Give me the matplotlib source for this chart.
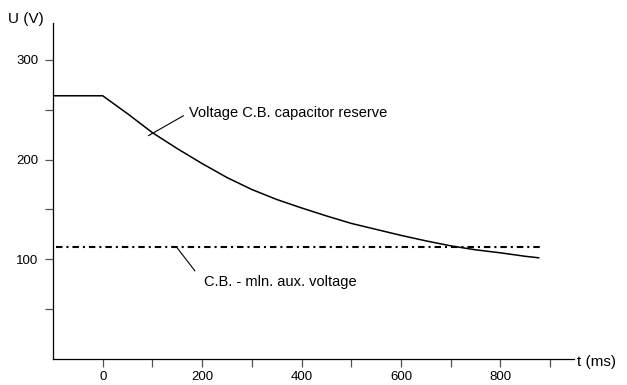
import matplotlib.pyplot as plt
from matplotlib.ticker import FixedLocator

plt.rcParams["font.family"] = ["Liberation Sans", "DejaVu Sans"]
plt.rcParams["font.size"] = 9.5

# capacitor reserve voltage curve
t_ms = [-100, 0, 50, 100, 150, 200, 250, 300, 350, 400, 450, 500, 550,
        600, 650, 700, 750, 800, 850, 877]
u_cap = [264, 264, 246, 227, 211, 196, 182, 170, 160, 151.5, 143.5, 136,
         130, 124, 118.5, 113.5, 109.5, 106.5, 103, 101.5]

# minimum auxiliary voltage
t_aux = [-93, 886]
u_aux = [112, 112]

x_major = [0, 200, 400, 600, 800]
x_minor = [100, 300, 500, 700, 900]
y_major = [100, 200, 300]
y_minor = [50, 150, 250]

fig = plt.figure(figsize=(6.27, 3.85), dpi=100)
ax = fig.add_axes([53 / 627, 26 / 385, 521 / 627, 336 / 385])

ax.plot(t_ms, u_cap, color="black", lw=1.1)
ax.plot(t_aux, u_aux, color="black", lw=1.5, dashes=(3.1, 1.9, 1, 1.9))

ax.set_xlim(-100, 948)
ax.set_ylim(0, 337)

for s in ["top", "right"]:
    ax.spines[s].set_visible(False)
ax.spines["left"].set_linewidth(0.9)
ax.spines["bottom"].set_linewidth(0.9)

ax.xaxis.set_major_locator(FixedLocator(x_major))
ax.xaxis.set_minor_locator(FixedLocator(x_minor))
ax.yaxis.set_major_locator(FixedLocator(y_major))
ax.yaxis.set_minor_locator(FixedLocator(y_minor))
ax.tick_params(which="both", direction="out", length=5.5, width=0.9,
               color="#555555", labelsize=9.5)
ax.tick_params(axis="y", pad=5)

ax.annotate("Voltage C.B. capacitor reserve", xy=(92, 224), xytext=(173, 247),
            va="center", ha="left", fontsize=10.5,
            arrowprops=dict(arrowstyle="-", color="black", lw=0.8,
                            relpos=(0, 0.5), shrinkA=2, shrinkB=0))
ax.annotate("C.B. - mln. aux. voltage", xy=(149, 112), xytext=(203, 77),
            va="center", ha="left", fontsize=10.5,
            arrowprops=dict(arrowstyle="-", color="black", lw=0.8,
                            relpos=(0, 0.5), shrinkA=7, shrinkB=0))

fig.text(8 / 627, 1 - 19 / 385, "U (V)", va="center", ha="left", fontsize=11)
fig.text(577 / 627, 1 - 362 / 385, "t (ms)", va="center", ha="left", fontsize=11)

fig.savefig("out.png", dpi=100)
